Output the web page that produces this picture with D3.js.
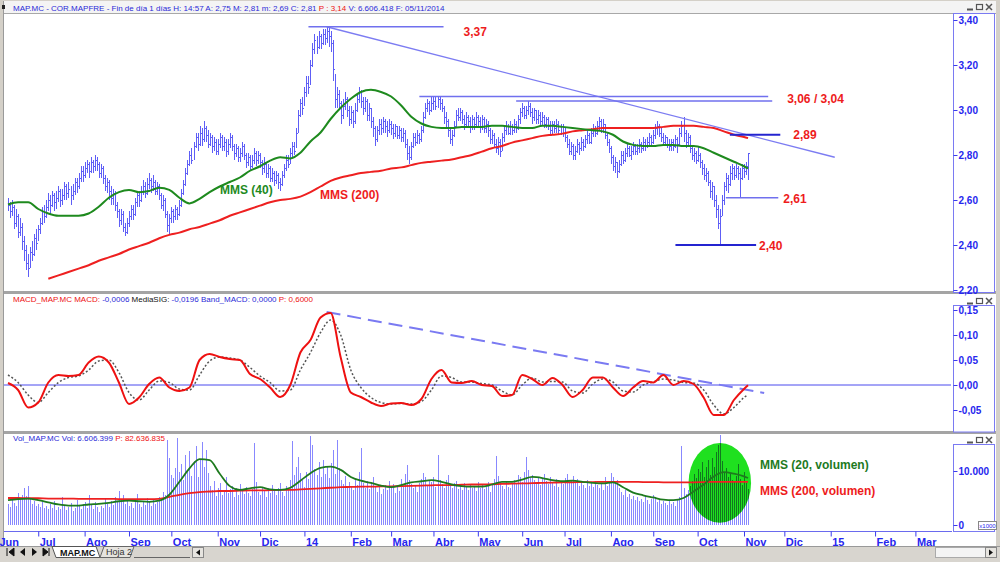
<!DOCTYPE html>
<html>
<head>
<meta charset="utf-8">
<title>MAP.MC</title>
<script src="https://cdn.jsdelivr.net/npm/d3@7/dist/d3.min.js"></script>
<style>
  body { margin: 0; background: #d4d0c8; }
  svg { display: block; font-family: Arial, "Liberation Sans", sans-serif; }
</style>
</head>
<body>
<svg id="chart" width="1000" height="562"></svg>
<script>
// ---------- data (daily bars from 10 Jun 2013 to 5 Nov 2014) ----------
const monthNames = ["Ene","Feb","Mar","Abr","May","Jun","Jul","Ago","Sep","Oct","Nov","Dic"];

const close = [
  2.58,2.55,2.57,2.50,2.53,2.46,2.48,2.42,2.38,2.32,2.30,2.37,2.36,2.43,2.41,
  2.47,2.50,2.55,2.53,2.57,2.60,2.58,2.62,2.59,2.61,2.64,2.60,2.62,2.66,2.63,2.65,2.62,2.64,2.68,2.66,2.70,2.73,2.71,
  2.74,2.76,2.73,2.77,2.75,2.78,2.76,2.72,2.74,2.70,2.66,2.68,2.64,2.61,2.63,2.58,2.55,2.51,2.54,2.48,2.46,2.50,
  2.53,2.56,2.54,2.59,2.62,2.60,2.64,2.66,2.63,2.67,2.69,2.66,2.68,2.64,2.66,2.62,2.58,2.60,2.54,2.49,2.52,
  2.55,2.53,2.56,2.54,2.58,2.63,2.67,2.72,2.76,2.80,2.78,2.84,2.88,2.85,2.90,2.87,2.92,2.89,2.85,2.88,2.84,2.86,2.82,
  2.85,2.88,2.84,2.86,2.82,2.85,2.88,2.84,2.81,2.83,2.79,2.81,2.84,2.80,2.77,2.79,2.75,2.78,2.81,2.78,2.80,
  2.77,2.74,2.76,2.72,2.74,2.70,2.72,2.69,2.71,2.68,2.67,2.71,2.74,2.78,2.76,2.81,2.84,2.82,2.90,2.98,3.03,3.01,
  3.08,3.12,3.10,3.20,3.27,3.31,3.28,3.33,3.30,3.34,3.32,3.35,3.33,3.30,3.18,3.05,3.07,3.03,2.98,3.02,3.05,3.00,2.96,
  2.99,2.95,3.00,3.05,3.08,3.04,3.01,3.04,2.98,3.01,2.95,2.92,2.87,2.91,2.94,2.92,2.95,2.93,2.91,2.94,
  2.92,2.90,2.93,2.89,2.91,2.88,2.90,2.85,2.81,2.79,2.84,2.88,2.86,2.89,2.87,2.91,2.97,3.01,3.03,3.00,3.03,
  3.04,3.02,3.05,3.03,3.01,2.97,2.95,2.91,2.87,2.89,2.93,2.98,2.97,2.99,2.96,2.94,2.97,2.95,2.93,2.96,2.94,2.97,
  2.95,2.93,2.96,2.92,2.94,2.91,2.87,2.89,2.85,2.83,2.86,2.82,2.88,2.91,2.93,2.90,2.93,2.91,2.94,2.92,2.96,2.99,
  3.01,2.98,3.00,3.02,2.99,2.97,3.00,2.96,2.98,2.95,2.97,2.94,2.96,2.93,2.91,2.94,2.92,2.94,2.91,2.93,2.90,
  2.88,2.85,2.82,2.84,2.80,2.82,2.85,2.83,2.86,2.84,2.87,2.89,2.86,2.90,2.92,2.90,2.93,2.95,2.92,2.94,2.89,2.86,2.83,
  2.79,2.75,2.77,2.73,2.76,2.80,2.78,2.81,2.83,2.80,2.82,2.84,2.82,2.83,2.85,2.83,2.86,2.84,2.86,2.88,2.86,
  2.89,2.92,2.93,2.90,2.88,2.86,2.88,2.85,2.84,2.86,2.84,2.87,2.85,2.90,2.93,2.90,2.86,2.88,2.83,2.80,2.81,2.78,
  2.80,2.77,2.74,2.71,2.72,2.68,2.64,2.66,2.60,2.56,2.50,2.53,2.60,2.66,2.70,2.67,2.72,2.74,2.71,2.74,2.72,2.70,2.74,
  2.73,2.75,2.81
];
const high = [
  2.61,2.59,2.60,2.58,2.56,2.54,2.52,2.50,2.44,2.40,2.36,2.39,2.42,2.45,2.47,
  2.49,2.52,2.57,2.58,2.60,2.63,2.62,2.64,2.63,2.64,2.66,2.65,2.65,2.68,2.67,2.68,2.66,2.67,2.70,2.70,2.72,2.75,2.75,
  2.77,2.78,2.77,2.79,2.78,2.80,2.79,2.77,2.76,2.75,2.71,2.70,2.69,2.66,2.65,2.64,2.59,2.56,2.56,2.55,2.50,2.52,
  2.55,2.58,2.58,2.61,2.64,2.64,2.66,2.69,2.68,2.70,2.72,2.70,2.71,2.69,2.68,2.67,2.63,2.62,2.61,2.55,2.54,
  2.57,2.56,2.58,2.57,2.60,2.65,2.69,2.74,2.78,2.82,2.83,2.86,2.90,2.90,2.93,2.92,2.95,2.93,2.91,2.90,2.89,2.88,2.87,
  2.87,2.90,2.89,2.88,2.87,2.87,2.90,2.89,2.85,2.85,2.84,2.83,2.86,2.85,2.81,2.81,2.80,2.80,2.83,2.82,2.82,
  2.81,2.78,2.79,2.77,2.76,2.75,2.74,2.73,2.73,2.72,2.70,2.73,2.76,2.80,2.80,2.83,2.86,2.86,2.92,3.00,3.05,3.06,
  3.10,3.15,3.15,3.22,3.30,3.34,3.33,3.35,3.34,3.36,3.36,3.37,3.37,3.35,3.31,3.16,3.10,3.09,3.04,3.05,3.08,3.06,3.02,
  3.02,3.00,3.03,3.07,3.10,3.09,3.06,3.06,3.05,3.03,3.01,2.97,2.93,2.93,2.96,2.96,2.97,2.96,2.95,2.96,
  2.95,2.94,2.94,2.93,2.93,2.92,2.92,2.91,2.87,2.84,2.86,2.90,2.90,2.91,2.90,2.93,2.99,3.03,3.05,3.04,3.06,
  3.06,3.06,3.06,3.06,3.05,3.02,2.99,2.96,2.92,2.91,2.95,3.00,3.01,3.01,3.00,2.98,2.99,2.98,2.97,2.98,2.97,2.99,
  2.98,2.97,2.98,2.97,2.96,2.95,2.92,2.91,2.90,2.87,2.88,2.87,2.90,2.93,2.95,2.94,2.95,2.94,2.96,2.95,2.98,3.01,
  3.03,3.02,3.02,3.04,3.03,3.01,3.01,3.00,3.00,2.99,2.99,2.98,2.97,2.97,2.95,2.95,2.95,2.96,2.95,2.94,2.94,
  2.92,2.89,2.87,2.86,2.85,2.84,2.87,2.86,2.88,2.87,2.89,2.91,2.90,2.92,2.94,2.93,2.95,2.97,2.96,2.96,2.94,2.90,2.87,
  2.84,2.80,2.79,2.77,2.78,2.82,2.82,2.83,2.85,2.84,2.84,2.86,2.85,2.85,2.87,2.86,2.88,2.87,2.88,2.90,2.89,
  2.91,2.94,2.95,2.94,2.92,2.90,2.89,2.88,2.87,2.87,2.87,2.89,2.88,2.92,2.95,2.97,2.91,2.90,2.89,2.84,2.83,2.82,
  2.84,2.81,2.78,2.76,2.74,2.73,2.69,2.68,2.66,2.62,2.58,2.56,2.62,2.68,2.72,2.71,2.75,2.76,2.75,2.76,2.75,2.74,2.76,
  2.76,2.77,2.81
];
const low = [
  2.55,2.52,2.53,2.47,2.48,2.43,2.44,2.38,2.33,2.29,2.26,2.30,2.33,2.35,2.38,
  2.42,2.45,2.49,2.50,2.52,2.55,2.54,2.57,2.55,2.56,2.59,2.57,2.58,2.60,2.60,2.61,2.58,2.60,2.62,2.63,2.65,2.68,2.68,
  2.70,2.72,2.70,2.72,2.72,2.73,2.73,2.70,2.70,2.67,2.64,2.63,2.60,2.58,2.58,2.55,2.52,2.48,2.49,2.46,2.44,2.45,
  2.48,2.51,2.51,2.53,2.57,2.57,2.59,2.62,2.61,2.62,2.65,2.63,2.64,2.62,2.62,2.60,2.56,2.55,2.52,2.46,2.45,
  2.50,2.50,2.51,2.51,2.53,2.57,2.62,2.66,2.71,2.75,2.76,2.78,2.83,2.82,2.84,2.84,2.86,2.86,2.83,2.84,2.81,2.82,2.80,
  2.80,2.83,2.82,2.82,2.79,2.80,2.83,2.82,2.78,2.79,2.77,2.77,2.79,2.78,2.74,2.75,2.73,2.74,2.76,2.75,2.76,
  2.74,2.71,2.72,2.70,2.70,2.68,2.68,2.66,2.67,2.65,2.64,2.66,2.70,2.73,2.74,2.76,2.79,2.80,2.83,2.90,2.97,2.98,
  3.02,3.06,3.07,3.11,3.19,3.25,3.25,3.27,3.27,3.29,3.29,3.30,3.28,3.26,3.13,3.01,3.01,3.00,2.94,2.96,3.00,2.97,2.93,
  2.94,2.92,2.94,2.99,3.03,3.01,2.98,2.99,2.95,2.95,2.92,2.88,2.84,2.86,2.89,2.89,2.90,2.90,2.88,2.90,
  2.89,2.87,2.88,2.87,2.87,2.86,2.86,2.83,2.78,2.76,2.78,2.83,2.84,2.85,2.85,2.86,2.90,2.96,2.99,2.98,2.99,
  3.00,3.00,3.01,3.00,2.99,2.94,2.92,2.88,2.85,2.84,2.88,2.92,2.95,2.95,2.94,2.91,2.92,2.92,2.90,2.91,2.91,2.93,
  2.92,2.90,2.91,2.90,2.90,2.88,2.85,2.85,2.83,2.81,2.80,2.79,2.82,2.86,2.89,2.89,2.89,2.89,2.90,2.90,2.91,2.94,
  2.97,2.96,2.96,2.98,2.97,2.94,2.95,2.94,2.94,2.93,2.93,2.92,2.92,2.91,2.89,2.89,2.90,2.90,2.89,2.89,2.88,
  2.86,2.83,2.80,2.80,2.78,2.78,2.81,2.80,2.82,2.82,2.83,2.85,2.85,2.85,2.88,2.88,2.89,2.91,2.90,2.90,2.87,2.84,2.81,
  2.76,2.73,2.72,2.70,2.72,2.75,2.76,2.77,2.79,2.79,2.78,2.80,2.80,2.80,2.81,2.81,2.82,2.82,2.83,2.84,2.84,
  2.85,2.87,2.89,2.88,2.86,2.84,2.84,2.83,2.82,2.82,2.82,2.83,2.81,2.84,2.88,2.86,2.83,2.84,2.81,2.78,2.77,2.76,
  2.77,2.74,2.71,2.69,2.68,2.66,2.61,2.60,2.57,2.52,2.47,2.40,2.53,2.58,2.64,2.63,2.66,2.69,2.69,2.70,2.69,2.61,2.69,
  2.70,2.71,2.69
];
// daily volume, thousands of shares
const volumeK = [
  3900,3400,4600,4100,3600,5900,4800,5600,6900,5300, 7200,4900,3800,4400,3500,3900,3300,4200,3100,3600,
  2900,3800,3200,4500,2700,3400,3000,5200,3600,2800, 3300,4000,2600,3100,4700,3500,2900,3800,4300,3200,
  5600,3700,3000,4200,3400,2500,3600,3100,4800,3900, 3300,4500,3700,5100,4200,6300,4600,5500,3800,4900,
  3600,4100,3200,4700,5800,3900,3400,4400,3700,5000, 4300,3500,4800,3900,4200,5200,4700,6100,5600,15800,
  12400,9300,8700,10600,16200,9800,11300,8400,12900,10200, 13700,9100,11800,14600,8900,12300,15400,10700,13800,9600,
  7200,6400,8100,5300,6900,7800,5600,6200,8800,5900, 6600,7300,5100,6800,5500,7600,6300,5800,7100,6000,
  5400,6700,15200,7900,6100,5600,7000,6500,5200,6900, 5900,7400,6300,5500,6800,7700,6100,5300,7200,6600,
  8300,15600,9200,10800,12600,9700,8400,7100,9900,8600, 16400,14800,10300,9200,11700,8800,12100,9500,10900,8700,
  11500,13900,9400,15700,10600,8300,7600,9100,6800,7900, 7200,6500,8600,7400,9800,14300,7700,6900,8100,6600,
  7900,8800,7300,6200,7100,5800,6700,7500,6400,8200, 6900,7600,5900,7200,6300,8500,7000,9400,11200,8300,
  7600,6800,7300,6100,7800,8600,9700,8900,7400,8200, 7900,8800,7100,12900,8300,7600,6800,8400,9200,7500,
  6900,7700,8100,6600,7300,6400,7800,7000,6500,7600, 6800,7200,6300,8000,6900,7400,6600,7100,7900,6200,
  7500,8600,12800,9100,7900,7300,6700,8200,7000,6800, 7700,8400,7600,9300,8800,7900,9800,12600,10100,8700,
  9200,8300,7800,8900,7400,8600,9500,8100,7600,8800, 7900,7300,8500,7100,8200,7600,8700,9400,7800,8300,
  9100,7700,8600,7200,8000,7500,6900,8400,7300,7800, 7000,8200,7400,6800,7600,6500,8900,7300,7700,9600,
  8800,7900,8400,6900,6100,5600,6400,5200,5800,4900, 5400,4700,5100,4400,4900,4200,5300,4600,3900,4800,
  5600,5100,4300,4700,3800,4500,4100,3700,4400,3900, 4200,3600,4800,5100,14600,6900,5800,6400,7200,8100,
  9400,8700,10300,9800,11600,8900,10700,12100,9300,12400, 10800,13600,14900,16600,11900,9700,10500,8800,9600,8300,
  7900,9100,11300,8600,7400,9900,7800,6600
];

// weekly readings (every 5th session, last one on the final session)
const mms40 = [
  2.58,2.59,2.59,2.56,2.54,2.53,2.53,2.53,2.54,2.57, 2.61,2.635,2.645,2.635,2.64,2.655,2.645,2.61,2.585,2.605,
  2.635,2.66,2.68,2.70,2.73,2.75,2.775,2.79,2.785,2.81, 2.86,2.90,2.96,3.01,3.05,3.08,3.09,3.08,3.06,3.02,
  2.97,2.94,2.925,2.92,2.92,2.925,2.925,2.925,2.93,2.93, 2.925,2.92,2.92,2.93,2.93,2.925,2.92,2.915,2.91,2.905,
  2.89,2.86,2.845,2.84,2.84,2.845,2.845,2.84,2.84,2.83, 2.81,2.79,2.77,2.75,2.74
];
const mms200 = [
  null,null,null,null,2.25,2.265,2.28,2.295,2.31,2.33, 2.345,2.36,2.38,2.395,2.41,2.43,2.445,2.455,2.47,2.48,
  2.495,2.51,2.53,2.545,2.56,2.575,2.59,2.60,2.605,2.615, 2.635,2.66,2.685,2.70,2.71,2.72,2.725,2.73,2.74,2.745,
  2.755,2.765,2.77,2.775,2.78,2.79,2.80,2.815,2.83,2.84, 2.855,2.865,2.875,2.885,2.89,2.895,2.905,2.91,2.915,2.92,
  2.92,2.92,2.92,2.92,2.92,2.925,2.93,2.93,2.93,2.925, 2.92,2.905,2.89,2.88,2.875
];
const macd = [
  0.004,-0.01,-0.045,-0.035,0.005,0.02,0.018,0.02,0.045,0.057, 0.045,0.005,-0.038,-0.025,0.002,0.015,-0.005,-0.012,-0.005,0.05,
  0.062,0.056,0.052,0.05,0.022,0.012,-0.005,-0.024,0.0,0.065, 0.09,0.135,0.144,0.055,-0.015,-0.024,-0.035,-0.042,-0.037,-0.036,
  -0.04,-0.028,0.012,0.03,0.005,0.004,0.008,0.0,-0.002,-0.022, -0.02,0.02,0.012,0.0,0.014,0.0,-0.024,-0.01,0.015,0.015,
  -0.005,-0.022,-0.005,0.008,0.005,0.02,0.0,0.008,0.002,-0.025, -0.06,-0.06,-0.03,-0.008,-0.0006
];
const mediaSig = [
  0.02,0.005,-0.02,-0.035,-0.015,0.005,0.015,0.018,0.03,0.048, 0.05,0.025,-0.015,-0.03,-0.01,0.008,0.005,-0.008,-0.01,0.02,
  0.048,0.056,0.054,0.05,0.035,0.018,0.005,-0.012,-0.01,0.03, 0.065,0.105,0.13,0.1,0.03,-0.005,-0.025,-0.035,-0.038,-0.037,
  -0.038,-0.033,-0.01,0.018,0.015,0.006,0.006,0.003,0.0,-0.012, -0.02,0.0,0.014,0.006,0.007,0.006,-0.012,-0.016,0.002,0.012,
  0.006,-0.012,-0.014,0.0,0.006,0.012,0.01,0.005,0.004,-0.01, -0.04,-0.058,-0.045,-0.025,-0.0196
];
const volMms20 = [
  4600,4800,4900,4600,4200,3800,3600,3600,3800,3900, 4100,4400,4500,4400,4300,4500,5600,8000,10500,12200,
  12000,9500,7200,6500,6800,7000,6600,6500,6900,8200, 9600,10600,10800,10200,8900,8200,7800,7300,7000,7400,
  7900,8100,8300,8000,7500,7200,7100,7100,7500,8000, 8000,8400,8900,8700,8300,8100,8200,8000,7800,7700,
  7900,7000,6000,5500,5100,4700,4600,5000,6200,7500, 9000,9800,9500,9000,8700
];
const volMms200 = [
  5000,5000,4950,4950,4900,4900,4900,4850,4850,4850, 4850,4800,4800,4800,4800,4850,5200,5600,5900,6100,
  6200,6300,6300,6350,6400,6400,6450,6500,6500,6600, 6700,6800,6900,7000,7050,7100,7100,7150,7150,7200,
  7250,7300,7350,7400,7400,7450,7500,7500,7550,7600, 7650,7700,7750,7800,7850,7900,7900,7950,7950,8000,
  8000,8000,8000,7950,7950,7900,7900,7900,7900,7950, 8000,8000,8000,8000,8000
];

// drawn support / resistance levels: price, first and last session, label
const levels = [
  {price: 3.37, from: 149, to: 216, label: "3,37", gap: 20, dy: 9},
  {price: 3.06, from: 204, to: 377, label: "3,06 / 3,04", gap: 19, dy: 6},
  {price: 3.04, from: 252, to: 379},
  {price: 2.89, from: 358, to: 383, label: "2,89", gap: 13, dy: 4, heavy: true},
  {price: 2.61, from: 356, to: 382, label: "2,61", gap: 5, dy: 5},
  {price: 2.40, from: 331, to: 371, label: "2,40", gap: 3, dy: 5, heavy: true}
];
const priceTrend = [[158, 3.37], [410, 2.79]];
const macdTrend = [[158, 0.146], [375, -0.016]];
const volCircle = {day: 353, vol: 7800, days: 15.5, volR: 7400};

const priceTicks = [2.2, 2.4, 2.6, 2.8, 3.0, 3.2, 3.4];
const macdTicks = [-0.05, 0, 0.05, 0.10, 0.15];
const volTicks = [0, 10000];

// ---------- drawing ----------
const es = d3.formatLocale({decimal: ",", thousands: ".", grouping: [3], currency: ["", " €"], minus: "-"});
const svg = d3.select("#chart");
const last = close.length - 1;

// trading days (Mon-Fri); index 0 is the first bar
const days = [];
for (let d = new Date(2013, 5, 3), i = -5; d <= new Date(2015, 2, 31); d.setDate(d.getDate() + 1)) {
  if (d.getDay() === 0 || d.getDay() === 6) continue;
  days.push({date: new Date(d), i: i++});
}
const monthStarts = days.filter((d, k) => k === 0 || d.date.getMonth() !== days[k - 1].date.getMonth());

const x = d3.scaleLinear().domain([0, 365]).range([8, 744]);
const yP = d3.scaleLinear().domain([2.2, 3.4]).range([290, 20]);
const yM = d3.scaleLinear().domain([-0.05, 0.15]).range([410, 310]);
const yV = d3.scaleLinear().domain([0, 10000]).range([525, 471]);
const px = i => Math.round(x(i)) + 0.5;
const wk = k => Math.min(k * 5, last);

// frame
svg.append("rect").attr("width", 1000).attr("height", 562).attr("fill", "#d4d0c8");
svg.append("rect").attr("x", 3).attr("y", 1).attr("width", 993).attr("height", 545).attr("fill", "#fff");
svg.append("rect").attr("x", 3).attr("y", 1).attr("width", 993).attr("height", 12).attr("fill", "#f4f4f4");
svg.append("line").attr("x1", 3).attr("x2", 996).attr("y1", 13.5).attr("y2", 13.5).attr("stroke", "#a8a8a8");
[291, 431].forEach(y => {
  svg.append("rect").attr("x", 3).attr("y", y).attr("width", 993).attr("height", 3).attr("fill", "#a4a4a4");
});
svg.append("line").attr("x1", 3.5).attr("x2", 3.5).attr("y1", 1).attr("y2", 546).attr("stroke", "#9a9a9a");

const defs = svg.append("defs");
[["clipP", 14, 291], ["clipM", 295, 431], ["clipV", 435, 530]].forEach(([id, t, b]) => {
  defs.append("clipPath").attr("id", id).append("rect")
    .attr("x", 4).attr("y", t).attr("width", 947).attr("height", b - t);
});

// axis boxes, window buttons
[[13, 292], [305, 431.5], [444, 531]].forEach(([t, b]) => {
  svg.append("rect").attr("x", 953.5).attr("y", t + 0.5).attr("width", 41).attr("height", b - t)
    .attr("fill", "#fff").attr("stroke", "#7a7af2");
});
[3, 297, 436].forEach(t => {
  const g = svg.append("g").attr("stroke", "#555").attr("fill", "none");
  g.append("line").attr("x1", 967).attr("x2", 973).attr("y1", t + 6.5).attr("y2", t + 6.5).attr("stroke-width", 2);
  g.append("rect").attr("x", 976.5).attr("y", t + 1.5).attr("width", 6).attr("height", 5).attr("stroke-width", 1.2);
  g.append("path").attr("d", `M986,${t + 1}l6,6M992,${t + 1}l-6,6`).attr("stroke-width", 1.5);
});

// headers
function header(y, parts) {
  const t = svg.append("text").attr("x", 13).attr("y", y).attr("font-size", 8);
  parts.forEach(([s, c]) => t.append("tspan").attr("fill", c).text(s));
}
svg.append("rect").attr("x", 2).attr("y", 5).attr("width", 3).attr("height", 4).attr("fill", "#222");
header(10.5, [["MAP.MC - COR.MAPFRE - Fin de día 1 días  H: 14:57  A: 2,75  M: 2,81  m: 2,69  C: 2,81  ", "#2a2ad8"],
              ["P : 3,14  ", "#ee1111"], ["V: 6.606.418  F: 05/11/2014", "#2a2ad8"]]);
header(302, [["MACD_MAP.MC  MACD: ", "#ee1111"], ["-0,0006  ", "#2a2ad8"], ["MediaSIG: ", "#111"],
             ["-0,0196  ", "#2a2ad8"], ["Band_MACD: 0,0000  ", "#2a2ad8"], ["P: 0,6000", "#ee1111"]]);
header(441, [["Vol_MAP.MC  Vol: 6.606.399  ", "#2a2ad8"], ["P: 82.636.835", "#ee1111"]]);

// right axes
function rightAxis(scale, ticks, fmt) {
  const g = svg.append("g").attr("transform", "translate(953.5,0)")
    .call(d3.axisRight(scale).tickValues(ticks).tickSize(4).tickPadding(1).tickFormat(fmt));
  g.select(".domain").remove();
  g.selectAll("line").attr("stroke", "#3a3aee");
  g.selectAll("text").attr("fill", "#2626ee").attr("font-weight", "bold").attr("font-size", 10)
    .attr("font-family", "Arial, 'Liberation Sans', sans-serif");
}
rightAxis(yP, priceTicks, es.format(".2f"));
rightAxis(yM, macdTicks, es.format(".2f"));
rightAxis(yV, volTicks, es.format(",d"));
svg.append("rect").attr("x", 978.5).attr("y", 521.5).attr("width", 18).attr("height", 8)
  .attr("fill", "#fff").attr("stroke", "#888");
svg.append("text").attr("x", 987.5).attr("y", 528).attr("text-anchor", "middle")
  .attr("font-size", 6).attr("fill", "#2626ee").text("x1000");

// ---- price panel ----
const gP = svg.append("g").attr("clip-path", "url(#clipP)");
gP.append("g").selectAll("path").data(close).join("path")
  .attr("d", (c, i) => `M${px(i)},${Math.round(yP(high[i]))}V${Math.round(yP(low[i]))}M${px(i)},${Math.round(yP(c)) + 0.5}h1.5`)
  .attr("fill", "none").attr("stroke", "#5e5ef6").attr("shape-rendering", "crispEdges");

const lineP = d3.line().defined(d => d != null).x((d, k) => x(wk(k))).y(d => yP(d)).curve(d3.curveMonotoneX);
gP.append("path").attr("d", lineP(mms200)).attr("fill", "none").attr("stroke", "#ee2020").attr("stroke-width", 2);
gP.append("path").attr("d", lineP(mms40)).attr("fill", "none").attr("stroke", "#1e8a1e").attr("stroke-width", 2);

gP.append("line").attr("x1", x(priceTrend[0][0])).attr("y1", yP(priceTrend[0][1]))
  .attr("x2", x(priceTrend[1][0])).attr("y2", yP(priceTrend[1][1]))
  .attr("stroke", "#7c7cf2").attr("stroke-width", 1.3);

levels.forEach(l => {
  gP.append("line").attr("x1", x(l.from)).attr("x2", x(l.to)).attr("y1", yP(l.price)).attr("y2", yP(l.price))
    .attr("stroke", l.heavy ? "#2424d0" : "#7070ee").attr("stroke-width", l.heavy ? 2.2 : 1.5);
  if (l.label) {
    gP.append("text").attr("x", x(l.to) + l.gap).attr("y", yP(l.price) + l.dy)
      .attr("fill", "#ee1c1c").attr("font-weight", "bold").attr("font-size", 12).text(l.label);
  }
});
gP.append("text").attr("x", 220).attr("y", 194).attr("fill", "#1e8a1e").attr("font-weight", "bold")
  .attr("font-size", 12).text("MMS (40)");
gP.append("text").attr("x", 320).attr("y", 199).attr("fill", "#ee1c1c").attr("font-weight", "bold")
  .attr("font-size", 12).text("MMS (200)");

// ---- MACD panel ----
const gM = svg.append("g").attr("clip-path", "url(#clipM)");
gM.append("line").attr("x1", 4).attr("x2", 951).attr("y1", yM(0)).attr("y2", yM(0))
  .attr("stroke", "#4a4aee").attr("stroke-width", 1);
gM.append("line").attr("x1", x(macdTrend[0][0])).attr("y1", yM(macdTrend[0][1]))
  .attr("x2", x(macdTrend[1][0])).attr("y2", yM(macdTrend[1][1]))
  .attr("stroke", "#7a7af2").attr("stroke-width", 2).attr("stroke-dasharray", "14,7");
const lineM = d3.line().x((d, k) => x(wk(k))).y(d => yM(d)).curve(d3.curveMonotoneX);
gM.append("path").attr("d", lineM(mediaSig)).attr("fill", "none").attr("stroke", "#555")
  .attr("stroke-width", 1.5).attr("stroke-dasharray", "2,2");
gM.append("path").attr("d", lineM(macd)).attr("fill", "none").attr("stroke", "#ee1111").attr("stroke-width", 2);

// ---- volume panel ----
const gV = svg.append("g").attr("clip-path", "url(#clipV)");
gV.append("g").selectAll("line").data(volumeK).join("line")
  .attr("x1", (v, i) => px(i)).attr("x2", (v, i) => px(i))
  .attr("y1", yV(0)).attr("y2", v => Math.round(yV(v)))
  .attr("stroke", "#8888ff").attr("shape-rendering", "crispEdges");
gV.append("ellipse")
  .attr("cx", x(volCircle.day)).attr("cy", yV(volCircle.vol))
  .attr("rx", x(volCircle.days) - x(0)).attr("ry", yV(0) - yV(volCircle.volR))
  .attr("fill", "#1fe01f").style("mix-blend-mode", "multiply");
const lineV = d3.line().x((d, k) => x(wk(k))).y(d => yV(d)).curve(d3.curveMonotoneX);
gV.append("path").attr("d", lineV(volMms200)).attr("fill", "none").attr("stroke", "#ee2020").attr("stroke-width", 1.8);
gV.append("path").attr("d", lineV(volMms20)).attr("fill", "none").attr("stroke", "#1e7a1e").attr("stroke-width", 1.8);
svg.append("text").attr("x", 760).attr("y", 469).attr("fill", "#1e7a1e").attr("font-weight", "bold")
  .attr("font-size", 12).text("MMS (20, volumen)");
svg.append("text").attr("x", 760).attr("y", 495).attr("fill", "#ee1c1c").attr("font-weight", "bold")
  .attr("font-size", 12).text("MMS (200, volumen)");

// ---- time axis ----
svg.append("line").attr("x1", 4).attr("x2", 952).attr("y1", 531.5).attr("y2", 531.5).attr("stroke", "#6a6aee");
const gX = svg.append("g").attr("transform", "translate(0,531.5)")
  .call(d3.axisBottom(x).tickValues(monthStarts.map(m => m.i)).tickSize(5).tickPadding(2)
    .tickFormat(i => {
      const m = monthStarts.find(d => d.i === i).date;
      return m.getMonth() === 0 ? String(m.getFullYear()).slice(2) : monthNames[m.getMonth()];
    }));
gX.select(".domain").remove();
gX.selectAll("line").attr("stroke", "#3a3aee");
gX.selectAll("text").attr("text-anchor", "start").attr("dx", 1).attr("fill", "#2626ee")
  .attr("font-weight", "bold").attr("font-size", 11).attr("font-family", "Arial, 'Liberation Sans', sans-serif");

// ---- sheet tabs ----
svg.append("rect").attr("x", 0).attr("y", 546).attr("width", 1000).attr("height", 16).attr("fill", "#d8d5cf");
svg.append("line").attr("x1", 0).attr("x2", 1000).attr("y1", 546.5).attr("y2", 546.5).attr("stroke", "#999");
const nav = svg.append("g").attr("fill", "#111");
nav.append("path").attr("d", "M7,548v8M14,548l-5,4l5,4z");
nav.append("path").attr("d", "M25,548l-5,4l5,4z");
nav.append("path").attr("d", "M32,548l5,4l-5,4z");
nav.append("path").attr("d", "M43,548l5,4l-5,4zM49,548v8");
nav.select("path").attr("stroke", "#111");
nav.select("path:last-child").attr("stroke", "#111");
svg.append("path").attr("d", "M52,546.5h44l4,11h-44z").attr("fill", "#fff").attr("stroke", "#555");
svg.append("text").attr("x", 60).attr("y", 555.5).attr("font-size", 9).attr("font-weight", "bold").attr("fill", "#111").text("MAP.MC");
svg.append("path").attr("d", "M100,557.5l4,-11h30l-4,11z").attr("fill", "#e6e4df").attr("stroke", "#666");
svg.append("text").attr("x", 106).attr("y", 555).attr("font-size", 9).attr("fill", "#333").text("Hoja 2");
svg.append("line").attr("x1", 134).attr("x2", 190).attr("y1", 557.5).attr("y2", 557.5).attr("stroke", "#666");
svg.append("rect").attr("x", 192.5).attr("y", 547.5).attr("width", 11).attr("height", 10).attr("fill", "#e6e4df").attr("stroke", "#888");
svg.append("path").attr("d", "M196,552.5l4,-3v6z").attr("fill", "#111");
svg.append("rect").attr("x", 935.5).attr("y", 547.5).attr("width", 50).attr("height", 10).attr("fill", "#f4f4f4").attr("stroke", "#aaa");
svg.append("rect").attr("x", 985.5).attr("y", 547.5).attr("width", 11).attr("height", 10).attr("fill", "#e6e4df").attr("stroke", "#888");
svg.append("path").attr("d", "M989,549.5l4,3l-4,3z").attr("fill", "#111");
</script>
</body>
</html>
